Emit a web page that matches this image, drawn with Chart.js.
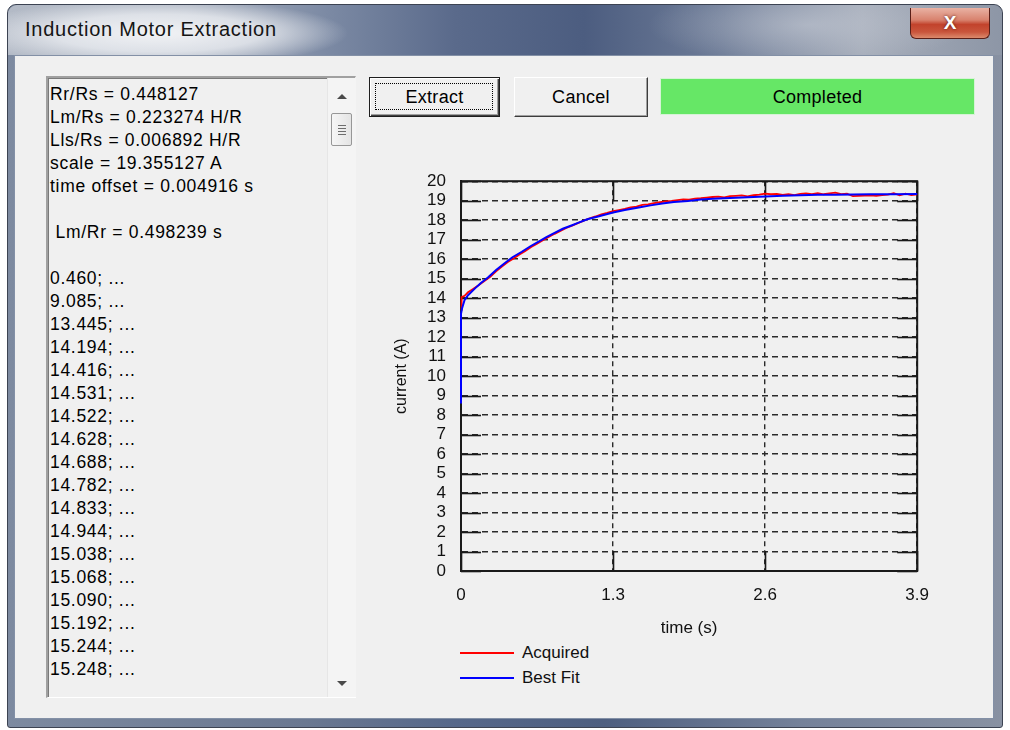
<!DOCTYPE html>
<html>
<head>
<meta charset="utf-8">
<script src="https://cdn.jsdelivr.net/npm/chart.js@4.4.1/dist/chart.umd.min.js"></script>
<style>
  html, body { margin: 0; padding: 0; background: #ffffff; width: 1010px; height: 730px; overflow: hidden; }
  body { position: relative; font-family: "Liberation Sans", Arial, sans-serif; }
  .win { position: absolute; left: 7px; top: 4px; width: 996px; height: 724px; border-radius: 9px 9px 3px 3px;
    background: linear-gradient(90deg, #7d8aa0 0%, #6a7891 30%, #56688a 45%, #4e5f80 60%, #75829a 80%, #8891a2 100%);
    border: 1px solid #3c4352; box-sizing: border-box; }
  .titlebar { position: absolute; left: 8px; top: 5px; width: 994px; height: 50px; border-radius: 9px 9px 0 0;
    background:
      radial-gradient(ellipse 190px 34px at 150px 28px, rgba(245,246,248,0.95) 0%, rgba(230,233,238,0.85) 55%, rgba(220,224,230,0) 100%),
      radial-gradient(ellipse 160px 40px at 800px 20px, rgba(200,205,215,0.55) 0%, rgba(200,205,215,0) 100%),
      linear-gradient(90deg, #b3bac6 0%, #a9b1bf 18%, #7c8aa4 32%, #5a6a8b 45%, #4c5d80 58%, #6f7d98 72%, #a6adba 86%, #8d96a6 100%); }
  .title { position: absolute; left: 25px; top: 18px; font-size: 20px; letter-spacing: 0.75px; color: #151515; white-space: nowrap; }
  .close { position: absolute; left: 910px; top: 8px; width: 80px; height: 31px; border: 1px solid #5a1f18; border-top: none;
    border-radius: 0 0 6px 6px; box-sizing: border-box;
    background: linear-gradient(180deg, #e9b2a4 0%, #d8826e 40%, #c2432c 55%, #c9553c 80%, #dc8a6c 100%);
    color: #fff; font-weight: bold; font-size: 19px; text-align: center; line-height: 29px; text-shadow: 0 0 3px #5a1a10; }
  .client { position: absolute; left: 14px; top: 55px; width: 980px; height: 664px; background: #f0f0f0;
    border: 1px solid #8390a6; box-sizing: border-box; }
  .list { position: absolute; left: 46px; top: 76px; width: 310px; height: 622px; box-sizing: border-box; background: #f0f0f0;
    border-top: 2px solid #a0a0a0; border-left: 2px solid #a0a0a0; border-right: 1px solid #ffffff; border-bottom: 1px solid #ffffff;
    box-shadow: inset 1px 1px 0 #7a7a7a; }
  .lines { position: absolute; left: 2px; top: 4.5px; font-size: 17.5px; letter-spacing: 0.7px; line-height: 23px; color: #000; white-space: pre; }
  .sb { position: absolute; left: 279px; top: 0px; width: 28px; height: 619px; background: #f4f4f4; border-left: 1px solid #e6e6e6; }
  .arrow-up { position: absolute; left: 9px; top: 16px; width: 0; height: 0; border-left: 5px solid transparent; border-right: 5px solid transparent; border-bottom: 5px solid #4a4a4a; }
  .arrow-dn { position: absolute; left: 9px; top: 603px; width: 0; height: 0; border-left: 5px solid transparent; border-right: 5px solid transparent; border-top: 5px solid #4a4a4a; }
  .thumb { position: absolute; left: 3px; top: 35px; width: 21px; height: 33px; box-sizing: border-box; border: 1px solid #979797; border-radius: 2px;
    background: linear-gradient(90deg, #f6f6f6, #e4e4e4); }
  .grip { position: absolute; left: 6px; width: 8px; height: 1px; background: #6d6d6d; }
  .btn { position: absolute; top: 77px; height: 40px; box-sizing: border-box; background: #f0f0f0; font-size: 18px; letter-spacing: 0.3px;
    text-align: center; line-height: 38px; color: #000; }
  .b1 { left: 369px; width: 131px; border: 1px solid #1e1e1e; box-shadow: inset 1px 1px 0 #ffffff, inset -1px -1px 0 #404040, inset -2px -2px 0 #a0a0a0; }
  .focus { position: absolute; left: 5px; top: 5px; right: 6px; bottom: 6px; border: 1px dotted #000; }
  .b2 { left: 514px; width: 134px; border-top: 1px solid #ffffff; border-left: 1px solid #ffffff; border-right: 1px solid #3c3c3c; border-bottom: 1px solid #3c3c3c;
    box-shadow: inset -1px -1px 0 #a0a0a0; }
  .status { position: absolute; left: 660px; top: 78px; width: 315px; height: 37px; box-sizing: border-box; background: #66e766;
    border: 1px solid #d6f3d6; text-align: center; line-height: 37px; font-size: 18px; letter-spacing: 0.3px; color: #000; }
  #chartWrap { position: absolute; left: 380px; top: 156px; width: 563px; height: 484px; }
  .leg { position: absolute; font-size: 17px; color: #111; line-height: 20px; white-space: nowrap; }
  .legline { position: absolute; width: 54px; height: 2px; }
</style>
</head>
<body>
<div class="win"></div>
<div class="titlebar"></div>
<div class="title">Induction Motor Extraction</div>
<div class="close">X</div>
<div class="client"></div>

<div class="list">
  <div class="lines" id="lines"></div>
  <div class="sb">
    <div class="arrow-up"></div>
    <div class="thumb">
      <div class="grip" style="top:11px"></div>
      <div class="grip" style="top:14px"></div>
      <div class="grip" style="top:17px"></div>
      <div class="grip" style="top:20px"></div>
    </div>
    <div class="arrow-dn"></div>
  </div>
</div>

<div class="btn b1"><div class="focus"></div>Extract</div>
<div class="btn b2">Cancel</div>
<div class="status">Completed</div>

<div id="chartWrap"><canvas id="c" width="563" height="484"></canvas></div>

<div class="legline" style="left:460px; top:652px; background:#ff0000;"></div>
<div class="leg" style="left:522px; top:643px;">Acquired</div>
<div class="legline" style="left:460px; top:677px; background:#0000ff;"></div>
<div class="leg" style="left:522px; top:668px;">Best Fit</div>

<script>
// ---------- data ----------
const listLines = [
  "Rr/Rs = 0.448127",
  "Lm/Rs = 0.223274 H/R",
  "Lls/Rs = 0.006892 H/R",
  "scale = 19.355127 A",
  "time offset = 0.004916 s",
  "",
  " Lm/Rr = 0.498239 s",
  "",
  "0.460; ...",
  "9.085; ...",
  "13.445; ...",
  "14.194; ...",
  "14.416; ...",
  "14.531; ...",
  "14.522; ...",
  "14.628; ...",
  "14.688; ...",
  "14.782; ...",
  "14.833; ...",
  "14.944; ...",
  "15.038; ...",
  "15.068; ...",
  "15.090; ...",
  "15.192; ...",
  "15.244; ...",
  "15.248; ..."
];

const xTickValues = [0, 1.3, 2.6, 3.9];
const xTickLabels = ["0", "1.3", "2.6", "3.9"];
const yTickValues = [0,1,2,3,4,5,6,7,8,9,10,11,12,13,14,15,16,17,18,19,20];
const yTickLabels = ["0","1","2","3","4","5","6","7","8","9","10","11","12","13","14","15","16","17","18","19","20"];

const seriesNames = ["Acquired", "Best Fit"];

const acquiredTime = [0, 0.005, 0.03, 0.06, 0.1, 0.15, 0.2, 0.25, 0.3, 0.35, 0.4, 0.45, 0.5, 0.55, 0.6, 0.65, 0.7, 0.75, 0.8, 0.85,
  0.9, 0.95, 1.0, 1.05, 1.1, 1.15, 1.2, 1.25, 1.3, 1.35, 1.4, 1.45, 1.5, 1.55, 1.6, 1.65, 1.7, 1.75, 1.8, 1.85,
  1.9, 1.95, 2.0, 2.05, 2.1, 2.15, 2.2, 2.25, 2.3, 2.35, 2.4, 2.45, 2.5, 2.55, 2.6, 2.65, 2.7, 2.75, 2.8, 2.85,
  2.9, 2.95, 3.0, 3.05, 3.1, 3.15, 3.2, 3.25, 3.3, 3.35, 3.4, 3.45, 3.5, 3.55, 3.6, 3.65, 3.7, 3.75, 3.8, 3.85, 3.9];
const acquiredCurrent = [13.4, 14.05, 14.12, 14.3, 14.46, 14.66, 14.88, 15.1, 15.38, 15.62, 15.85, 16.04, 16.24, 16.42, 16.62, 16.79, 16.97, 17.14, 17.3, 17.45,
  17.6, 17.72, 17.85, 17.98, 18.1, 18.19, 18.3, 18.37, 18.46, 18.52, 18.58, 18.66, 18.7, 18.79, 18.81, 18.88, 18.92, 18.96, 18.99, 19.03,
  19.06, 19.05, 19.11, 19.13, 19.16, 19.19, 19.21, 19.17, 19.23, 19.25, 19.27, 19.22, 19.28, 19.31, 19.36, 19.33, 19.35, 19.3, 19.34, 19.29,
  19.35, 19.37, 19.34, 19.39, 19.33, 19.37, 19.41, 19.34, 19.36, 19.23, 19.25, 19.26, 19.27, 19.25, 19.29, 19.31, 19.39, 19.28, 19.36, 19.29, 19.33];

const fitTime = [0, 0, 0.01, 0.03, 0.06, 0.12, 0.17, 0.23, 0.3, 0.37, 0.44, 0.52, 0.59, 0.66, 0.73, 0.8, 0.87, 0.95, 1.0, 1.08,
  1.18, 1.3, 1.4, 1.52, 1.62, 1.72, 1.82, 1.94, 2.05, 2.15, 2.3, 2.45, 2.6, 2.75, 2.9, 3.05, 3.2, 3.5, 3.7, 3.9];
const fitCurrent = [8.6, 13.2, 13.5, 13.9, 14.15, 14.5, 14.78, 15.06, 15.44, 15.78, 16.1, 16.38, 16.65, 16.89, 17.13, 17.35, 17.56, 17.74, 17.86, 18.05,
  18.2, 18.39, 18.52, 18.65, 18.76, 18.86, 18.93, 18.99, 19.06, 19.1, 19.14, 19.18, 19.22, 19.25, 19.28, 19.3, 19.31, 19.33, 19.335, 19.34];

// ---------- list box ----------
document.getElementById('lines').textContent = listLines.join('\n');

// ---------- chart ----------
const tickFont = { family: '"Liberation Sans", Arial, sans-serif', size: 17 };

const framePlugin = {
  id: 'frameTicks',
  beforeDatasetsDraw(chart) {
    const { ctx, chartArea: a, scales: { x, y } } = chart;
    const seg = (x1, y1, x2, y2) => { ctx.beginPath(); ctx.moveTo(x1, y1); ctx.lineTo(x2, y2); ctx.stroke(); };
    ctx.save();
    ctx.strokeStyle = '#1a1a1a';
    ctx.lineWidth = 1.6;
    y.ticks.forEach(t => {
      const py = Math.round(y.getPixelForValue(t.value)) + 0.5;
      seg(a.left, py, a.left + 20, py);
      seg(a.right - 20, py, a.right, py);
    });
    x.ticks.forEach(t => {
      const px = Math.round(x.getPixelForValue(t.value)) + 0.5;
      seg(px, a.top, px, a.top + 20);
      seg(px, a.bottom - 20, px, a.bottom);
    });
    ctx.lineWidth = 2;
    ctx.strokeRect(a.left, a.top, a.right - a.left, a.bottom - a.top);
    ctx.restore();
  }
};

new Chart(document.getElementById('c'), {
  type: 'line',
  data: {
    datasets: [
      {
        label: seriesNames[0],
        data: acquiredTime.map((t, i) => ({ x: t, y: acquiredCurrent[i] })),
        borderColor: '#ff0000',
        borderWidth: 1.8,
        pointRadius: 0,
        tension: 0,
        clip: false,
        order: 2
      },
      {
        label: seriesNames[1],
        data: fitTime.map((t, i) => ({ x: t, y: fitCurrent[i] })),
        borderColor: '#0000ff',
        borderWidth: 2,
        pointRadius: 0,
        tension: 0,
        clip: false,
        order: 1
      }
    ]
  },
  options: {
    responsive: false,
    animation: false,
    devicePixelRatio: 1,
    layout: { padding: 0 },
    plugins: { legend: { display: false }, tooltip: { enabled: false } },
    scales: {
      x: {
        type: 'linear',
        min: 0, max: 3.9,
        afterBuildTicks: s => { s.ticks = xTickValues.map(v => ({ value: v })); },
        afterFit: s => { s.height = 69; },
        ticks: { font: tickFont, color: '#111', padding: 14, maxRotation: 0, callback: (v, i) => xTickLabels[i] },
        grid: { color: '#2a2a2a', lineWidth: 1.4, drawTicks: false },
        border: { display: true, color: '#1a1a1a', width: 2, dash: [5, 4] },
        title: { display: true, text: 'time (s)', font: tickFont, color: '#111', padding: { top: 4, bottom: 1.6 } }
      },
      y: {
        type: 'linear',
        min: 0, max: 20,
        afterBuildTicks: s => { s.ticks = yTickValues.map(v => ({ value: v })); },
        afterFit: s => { s.width = 81; },
        ticks: { font: tickFont, color: '#111', padding: 15, autoSkip: false, callback: (v, i) => yTickLabels[i] },
        grid: { color: '#2a2a2a', lineWidth: 1.4, drawTicks: false },
        border: { display: true, color: '#1a1a1a', width: 2, dash: [6, 4] },
        title: { display: true, text: 'current (A)', font: { family: tickFont.family, size: 16 }, color: '#111', padding: { top: 12, bottom: 0 } }
      }
    }
  },
  plugins: [framePlugin]
});
</script>
</body>
</html>
